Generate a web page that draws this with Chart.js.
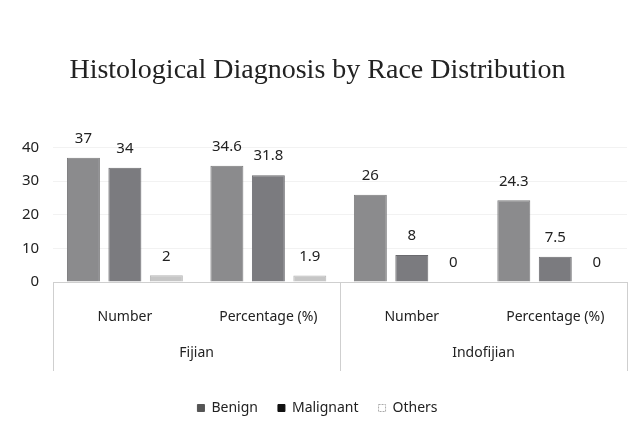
<!DOCTYPE html>
<html>
<head>
<meta charset="utf-8">
<script src="https://cdn.jsdelivr.net/npm/chart.js@4/dist/chart.umd.min.js"></script>
<style>
  html, body { margin: 0; padding: 0; background: #fff; }
  #wrap { width: 635px; height: 445px; }
</style>
</head>
<body>
<div id="wrap"><canvas id="raceChart"></canvas></div>
<script>
// chart data
const categories = ['Number', 'Percentage (%)', 'Number', 'Percentage (%)'];
const groups = ['Fijian', 'Indofijian'];
const benign = [37, 34.6, 26, 24.3];
const malignant = [34, 31.8, 8, 7.5];
const others = [2, 1.9, 0, 0];
const yTicks = [0, 10, 20, 30, 40];

const fontFamily = '"Noto Sans", sans-serif';
const legendFill = ['#555555', '#111111', '#ffffff'];

// draws the value above each bar
const valueLabels = {
    id: 'valueLabels',
    afterDatasetsDraw(chart) {
        const ctx = chart.ctx;
        ctx.save();
        ctx.font = '15px ' + fontFamily;
        ctx.fillStyle = '#222';
        ctx.textAlign = 'center';
        ctx.textBaseline = 'middle';
        chart.data.datasets.forEach((ds, i) => {
            const meta = chart.getDatasetMeta(i);
            meta.data.forEach((bar, j) => {
                ctx.fillText(String(ds.data[j]), bar.x, bar.y - 19);
            });
        });
        ctx.restore();
    }
};

// second row of the x axis: race groups with separator lines
const groupAxis = {
    id: 'groupAxis',
    afterDraw(chart) {
        const x = chart.scales.x;
        const ctx = chart.ctx;
        const step = x.getPixelForValue(1) - x.getPixelForValue(0);
        const per = categories.length / groups.length;
        ctx.save();
        ctx.strokeStyle = '#cfcfcf';
        ctx.lineWidth = 1;
        ctx.font = '14px ' + fontFamily;
        ctx.fillStyle = '#222';
        ctx.textAlign = 'center';
        ctx.textBaseline = 'middle';
        groups.forEach((g, i) => {
            const first = x.getPixelForValue(i * per);
            const last = x.getPixelForValue(i * per + per - 1);
            ctx.fillText(g, (first + last) / 2, x.top + 71);
        });
        for (let i = 0; i <= groups.length; i++) {
            const px = Math.round(x.getPixelForValue(i * per) - step / 2) + 0.5;
            ctx.beginPath();
            ctx.moveTo(px, x.top);
            ctx.lineTo(px, x.top + 89);
            ctx.stroke();
        }
        ctx.restore();
    }
};

const ctx = document.getElementById('raceChart').getContext('2d');
new Chart(ctx, {
    type: 'bar',
    data: {
        labels: categories,
        datasets: [
            {
                label: 'Benign',
                data: benign,
                backgroundColor: '#8b8b8d',
                borderColor: '#7a7a7c',
                borderWidth: 1
            },
            {
                label: 'Malignant',
                data: malignant,
                backgroundColor: '#7b7b7f',
                borderColor: '#6a6a6e',
                borderWidth: 1
            },
            {
                label: 'Others',
                data: others,
                backgroundColor: '#c6c6c6',
                borderColor: '#b5b5b5',
                borderWidth: 1
            }
        ]
    },
    options: {
        responsive: true,
        maintainAspectRatio: false,
        animation: false,
        barPercentage: 0.795,
        categoryPercentage: 0.867,
        layout: {
            padding: { left: 8, right: 8, top: 0, bottom: 20 }
        },
        scales: {
            y: {
                min: 0,
                max: 40,
                afterBuildTicks(scale) {
                    scale.ticks = yTicks.map(v => ({ value: v }));
                },
                border: { display: false },
                grid: { color: '#f2f2f2', drawTicks: false },
                ticks: {
                    padding: 14,
                    color: '#222',
                    font: { family: fontFamily, size: 15 }
                }
            },
            x: {
                grid: { display: false, drawTicks: false },
                border: { color: '#cfcfcf' },
                ticks: {
                    padding: 27,
                    maxRotation: 0,
                    autoSkip: false,
                    color: '#222',
                    font: { family: fontFamily, size: 14 }
                },
                afterFit(scale) {
                    scale.height = 99;
                }
            }
        },
        plugins: {
            title: {
                display: true,
                text: 'Histological Diagnosis by Race Distribution',
                color: '#222',
                font: { family: '"Liberation Serif", serif', size: 28, weight: 'normal' },
                padding: { top: 54, bottom: 60 }
            },
            legend: {
                position: 'bottom',
                labels: {
                    boxWidth: 7,
                    boxHeight: 7,
                    padding: 20,
                    color: '#222',
                    font: { family: fontFamily, size: 14 },
                    generateLabels(chart) {
                        const items = Chart.defaults.plugins.legend.labels.generateLabels(chart);
                        items.forEach((item, i) => {
                            item.fillStyle = legendFill[i];
                            item.strokeStyle = i === 2 ? '#aaaaaa' : legendFill[i];
                            item.lineDash = i === 2 ? [2, 1] : [];
                            item.lineWidth = 1;
                        });
                        return items;
                    }
                }
            },
            tooltip: { enabled: false }
        }
    },
    plugins: [valueLabels, groupAxis]
});
</script>
</body>
</html>
